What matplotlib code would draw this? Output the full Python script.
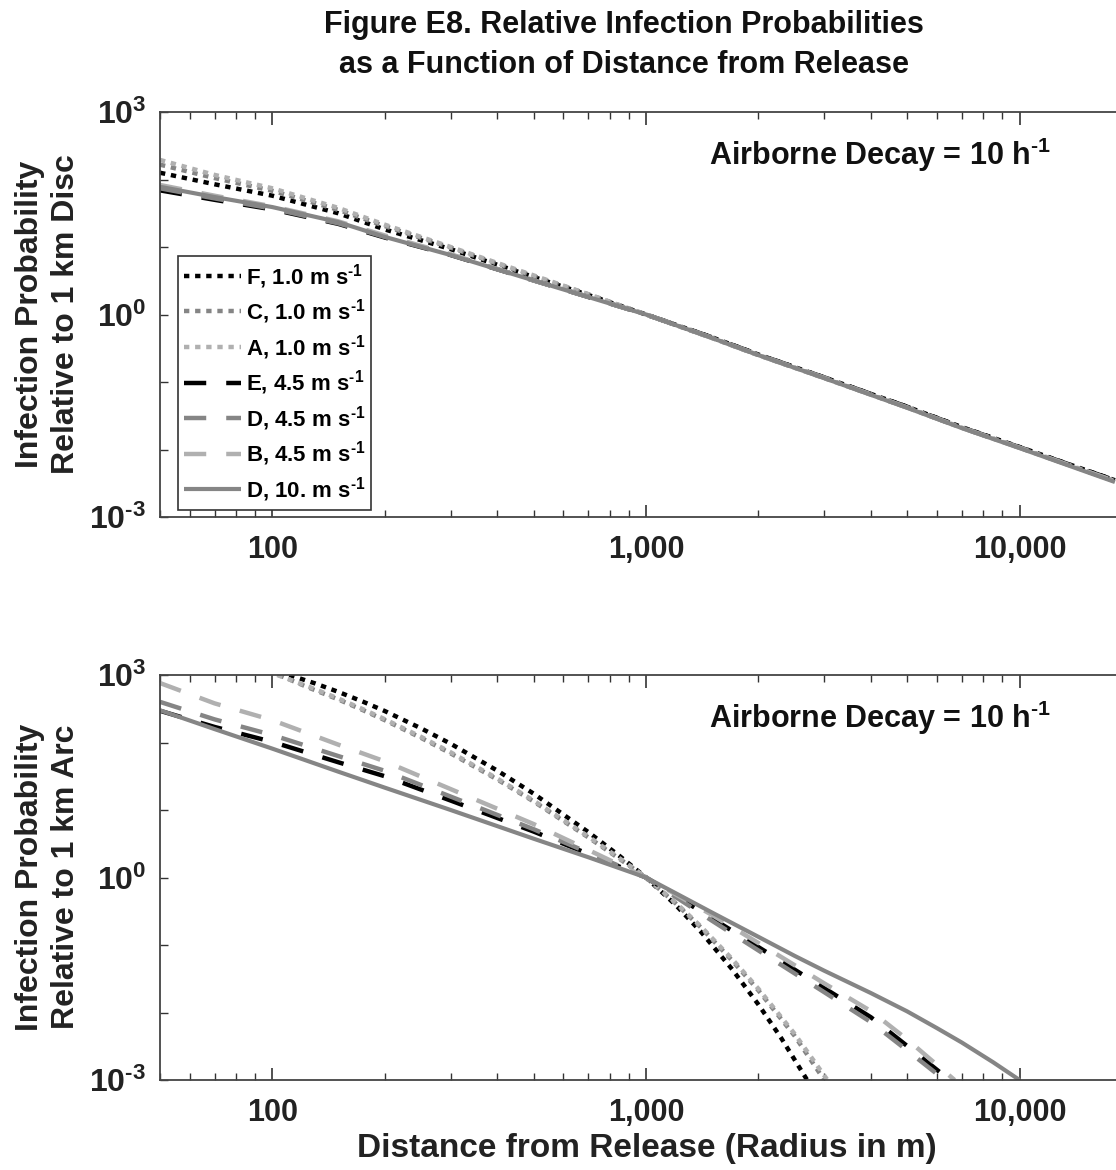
import matplotlib.pyplot as plt
from matplotlib.ticker import FuncFormatter, FixedLocator, NullFormatter

plt.rcParams['font.family'] = 'Liberation Sans'
plt.rcParams['font.weight'] = 'bold'
plt.rcParams['mathtext.fontset'] = 'custom'
plt.rcParams['mathtext.rm'] = 'Liberation Sans:bold'
plt.rcParams['mathtext.it'] = 'Liberation Sans:bold'
plt.rcParams['mathtext.bf'] = 'Liberation Sans:bold'

SUP = r'$^{\text{-}1}$'

# Series labels (stability class, wind speed)
labels = ['F, 1.0 m s' + SUP, 'C, 1.0 m s' + SUP, 'A, 1.0 m s' + SUP,
          'E, 4.5 m s' + SUP, 'D, 4.5 m s' + SUP, 'B, 4.5 m s' + SUP,
          'D, 10. m s' + SUP]

# Top panel: relative to 1 km disc
disc_dist = [50, 70, 100, 150, 200, 300, 500, 700, 1000, 1500, 2000, 3000, 5000, 7000, 10000, 18000]
disc_F = [126, 85, 57.5, 31.6, 18.2, 9.3, 3.6, 1.95, 1.0, 0.46, 0.255, 0.117, 0.043, 0.0215, 0.0109, 0.0035]
disc_C = [166, 105, 68, 35.5, 20.4, 9.8, 3.7, 2.0, 1.0, 0.45, 0.25, 0.115, 0.042, 0.021, 0.0107, 0.0034]
disc_A = [195, 117, 74, 38, 21.4, 10.0, 3.8, 2.0, 1.0, 0.45, 0.25, 0.114, 0.042, 0.021, 0.0106, 0.0034]
disc_E = [69, 50, 36, 22, 13.8, 7.6, 3.2, 1.82, 1.0, 0.46, 0.255, 0.117, 0.043, 0.0213, 0.0108, 0.0035]
disc_D45 = [74, 52.5, 37, 22.4, 14.1, 7.7, 3.2, 1.83, 1.0, 0.455, 0.252, 0.116, 0.042, 0.021, 0.0107, 0.0034]
disc_B = [83, 57.5, 40, 24, 14.8, 7.8, 3.2, 1.83, 1.0, 0.45, 0.25, 0.115, 0.042, 0.021, 0.0106, 0.0034]
disc_D10 = [78, 55, 39, 23.4, 14.1, 7.6, 3.2, 1.82, 1.0, 0.45, 0.25, 0.114, 0.0415, 0.0208, 0.0105, 0.0033]

# Bottom panel: relative to 1 km arc
arc_F_dist = [111, 130, 150, 175, 200, 250, 300, 400, 500, 700, 850, 1000, 1200, 1400, 1700, 2000, 2300, 2700]
arc_F = [1000, 751, 563, 401, 292, 162, 95.9, 38.3, 17.5, 4.73, 2.08, 1.0, 0.393, 0.159, 0.0438, 0.0131,
         0.0042, 0.001]
arc_C_dist = [104, 125, 150, 175, 200, 250, 300, 400, 500, 700, 850, 1000, 1200, 1400, 1700, 2000, 2500, 3000]
arc_C = [1000, 650, 435, 300, 214, 117, 69, 28.3, 13.4, 3.95, 1.88, 1.0, 0.415, 0.184, 0.059, 0.0212,
         0.0045, 0.001]
arc_A_dist = [103, 125, 150, 175, 200, 250, 300, 400, 500, 700, 850, 1000, 1200, 1400, 1700, 2000, 2500, 3060]
arc_A = [1000, 673, 449, 310, 221, 121, 71.6, 29.2, 13.8, 4.07, 1.92, 1.0, 0.424, 0.190, 0.0621, 0.0224,
         0.00482, 0.001]
arc_E_dist = [50, 70, 100, 150, 200, 300, 500, 700, 1000, 1500, 2000, 3000, 4000, 5000, 6500]
arc_E = [295, 170, 102, 51, 31.6, 13.8, 4.8, 2.24, 1.0, 0.25, 0.093, 0.023, 0.0085, 0.0032, 0.001]
arc_D45_dist = [50, 70, 100, 150, 200, 300, 500, 700, 1000, 1500, 2000, 3000, 4000, 5000, 6300]
arc_D45 = [400, 220, 129, 63, 38, 15.8, 5.2, 2.34, 1.0, 0.23, 0.083, 0.020, 0.0072, 0.00275, 0.001]
arc_B_dist = [50, 70, 100, 150, 200, 300, 500, 700, 1000, 1500, 2000, 3000, 4000, 5000, 6700]
arc_B = [760, 380, 214, 93, 52.5, 20.4, 6.2, 2.57, 1.0, 0.28, 0.107, 0.027, 0.0105, 0.004, 0.001]
arc_D10_dist = [50, 70, 100, 150, 200, 300, 500, 700, 1000, 1250, 1500, 2000, 2500, 3000, 4000,
                5000, 6000, 7000, 8500, 10000]
arc_D10 = [300, 158, 81, 37, 21.4, 10, 3.76, 2.0, 1.0, 0.52, 0.304, 0.132, 0.069, 0.0416, 0.0194,
           0.0104, 0.0059, 0.0036, 0.00183, 0.001]

black, mid, light = '#000000', '#858585', '#b0b0b0'
dot = (1.2, 1.3)
dash = (5, 4.5)
styles = [
    dict(color=black, lw=3.2, dashes=dot),
    dict(color=mid, lw=3.2, dashes=dot),
    dict(color=light, lw=3.2, dashes=dot),
    dict(color=black, lw=3.2, dashes=dash),
    dict(color=mid, lw=3.2, dashes=dash),
    dict(color=light, lw=3.2, dashes=dash),
    dict(color=mid, lw=3.0),
]

W, H = 1116, 1170
fig = plt.figure(figsize=(W / 100, H / 100), dpi=100)
ax1 = fig.add_axes([160 / W, 1 - 517 / H, 972 / W, 405 / H])
ax2 = fig.add_axes([160 / W, 1 - 1080 / H, 972 / W, 405 / H])

top = [(disc_dist, disc_F), (disc_dist, disc_C), (disc_dist, disc_A), (disc_dist, disc_E),
       (disc_dist, disc_D45), (disc_dist, disc_B), (disc_dist, disc_D10)]
bottom = [(arc_F_dist, arc_F), (arc_C_dist, arc_C), (arc_A_dist, arc_A), (arc_E_dist, arc_E),
          (arc_D45_dist, arc_D45), (arc_B_dist, arc_B), (arc_D10_dist, arc_D10)]

for ax, series in [(ax1, top), (ax2, bottom)]:
    for (x, y), st, lab in zip(series, styles, labels):
        ax.plot(x, y, label=lab, solid_capstyle='butt', dash_capstyle='butt', **st)
    ax.set_xscale('log')
    ax.set_yscale('log')
    ax.set_xlim(50, 20000)
    ax.set_ylim(1e-3, 1e3)
    ax.yaxis.set_major_locator(FixedLocator([1e-3, 1e0, 1e3]))
    ax.yaxis.set_minor_locator(FixedLocator([1e-2, 1e-1, 1e1, 1e2]))
    ax.yaxis.set_minor_formatter(NullFormatter())
    ax.set_yticklabels([r'$10^{\text{-}3}$', '$10^{0}$', '$10^{3}$'])
    ax.xaxis.set_major_formatter(FuncFormatter(lambda v, p: f'{v:,.0f}'))
    ax.xaxis.set_minor_formatter(NullFormatter())
    ax.tick_params(which='both', direction='in', top=True, right=False, colors='#333333',
                   labelcolor='#222222')
    ax.tick_params(axis='x', which='major', length=9, width=1.2, pad=13, labelsize=22)
    ax.tick_params(axis='x', which='minor', length=5, width=1.0)
    ax.tick_params(axis='y', which='both', length=6, width=1.0, pad=10, labelsize=23)
    for s in ax.spines.values():
        s.set_color('#444444')
        s.set_linewidth(1.3)
    ax.text(0.741, 0.894, 'Airborne Decay = 10 h' + SUP, transform=ax.transAxes,
            ha='center', va='center', fontsize=22, color='#111111')

leg = ax1.legend(loc='upper left', bbox_to_anchor=(0.0185, 0.644), borderaxespad=0,
                 fontsize=16, handlelength=2.6, handletextpad=0.2, labelspacing=0.3,
                 borderpad=0.25, fancybox=False, framealpha=1, edgecolor='#333333')
leg.get_frame().set_linewidth(1.2)

fig.text(624 / W, 1 - 45 / H, 'Figure E8. Relative Infection Probabilities\nas a Function of Distance from Release',
         ha='center', va='center', fontsize=22, color='#111111', linespacing=1.42)
fig.text(48 / W, 1 - 314 / H, 'Infection Probability\nRelative to 1 km Disc', rotation=90,
         ha='center', va='center', fontsize=23, color='#222222', linespacing=1.3)
fig.text(48 / W, 1 - 877 / H, 'Infection Probability\nRelative to 1 km Arc', rotation=90,
         ha='center', va='center', fontsize=23, color='#222222', linespacing=1.3)
fig.text(647 / W, 1 - 1149 / H, 'Distance from Release (Radius in m)',
         ha='center', va='center', fontsize=24, color='#222222')

fig.savefig('out.png', dpi=100)
